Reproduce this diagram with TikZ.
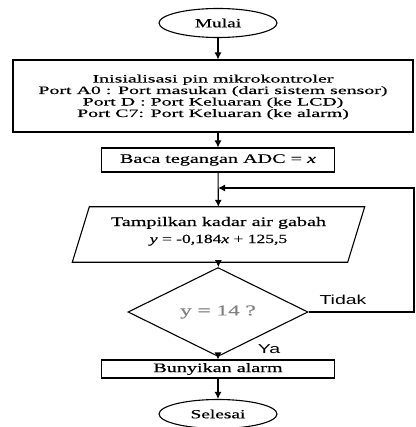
\documentclass[tikz,border=0pt]{standalone}
\usepackage{fontspec}
\setmainfont[FakeStretch=1.55, FakeBold=0.3]{Liberation Serif}
\newfontfamily\initfont[FakeStretch=1.76, FakeBold=0.3]{Liberation Serif}
\newfontfamily\eqfont[FakeStretch=1.4, FakeBold=0.3]{Liberation Serif}
\newfontfamily\labelfont[FakeStretch=1.5]{Liberation Sans}
\usetikzlibrary{shapes.geometric,arrows.meta}

\begin{document}
\begin{tikzpicture}[
    x=1pt, y=-1pt,
    box/.style={draw, line width=1.1pt, inner sep=0pt, align=center},
    terminal/.style={box, ellipse, minimum width=118pt, minimum height=29pt},
    flow/.style={line width=1.1pt, -{Latex[length=7pt,width=7pt]}},
    tag/.style={font=\labelfont\fontsize{13}{14}\selectfont},
    font=\fontsize{13}{15}\selectfont
]
\useasboundingbox (0,0) rectangle (415,427);

% Start
\node[terminal, font=\fontsize{12.5}{14}\selectfont] (mulai) at (218, 23) {Mulai};

% Initialisation
\node[box, minimum width=400pt, minimum height=72pt, text height=45pt, text depth=3pt,
      font=\initfont\fontsize{11.3}{11.5}\selectfont] (init) at (213, 96)
    {Inisialisasi pin mikrokontroler\\
     Port A0 : Port masukan (dari sistem sensor)\\
     Port D : Port Keluaran (ke LCD)\\
     Port C7: Port Keluaran (ke alarm)};

% Read ADC
\node[box, minimum width=233pt, minimum height=24pt] (baca) at (218, 160)
    {Baca tegangan ADC = \textit{x}};

% Display (parallelogram drawn round the node)
\node[minimum width=275pt, minimum height=55pt, inner sep=0pt, align=center,
      text height=20pt, text depth=3pt, font=\fontsize{13}{17}\selectfont] (tampil) at (218.5, 234.5)
    {Tampilkan kadar air gabah\\
     {\eqfont\fontsize{12.5}{17}\selectfont\textit{y} = -0,184\textit{x} + 125,5}};
\draw[line width=1.1pt] ([xshift=-8.5pt]tampil.south west) -- ([xshift=-8.5pt]tampil.south east)
    -- ([xshift=8.5pt]tampil.north east) -- ([xshift=8.5pt]tampil.north west) -- cycle;

% Decision
\node[box, diamond, minimum width=180pt, minimum height=70pt,
      text=black!50, font=\fontsize{15}{17}\selectfont] (cek) at (218, 312)
    {y = 14 ?};

% Alarm
\node[box, minimum width=233pt, minimum height=18pt] (alarm) at (218, 369)
    {Bunyikan alarm};

% End
\node[terminal, font=\fontsize{12.5}{14}\selectfont] (selesai) at (218, 414) {Selesai};

% Labels
\node[tag] (tidak) at (343, 300) {Tidak};
\node[tag] (ya) at (269, 349) {Ya};

% Connectors
\coordinate (balik) at (414, 312);
\coordinate (gabung) at (218, 188);
\draw[flow] (mulai) -- (mulai |- init.north);
\draw[flow] (baca |- init.south) -- (baca);
\draw[flow] (baca) -- (tampil);
\draw[flow] (tampil) -- (cek);
\draw[flow] (cek) -- (alarm);
\draw[flow] (alarm) -- (selesai);
\draw[flow] (cek.east) -- (balik) |- (gabung);

\end{tikzpicture}
\end{document}
